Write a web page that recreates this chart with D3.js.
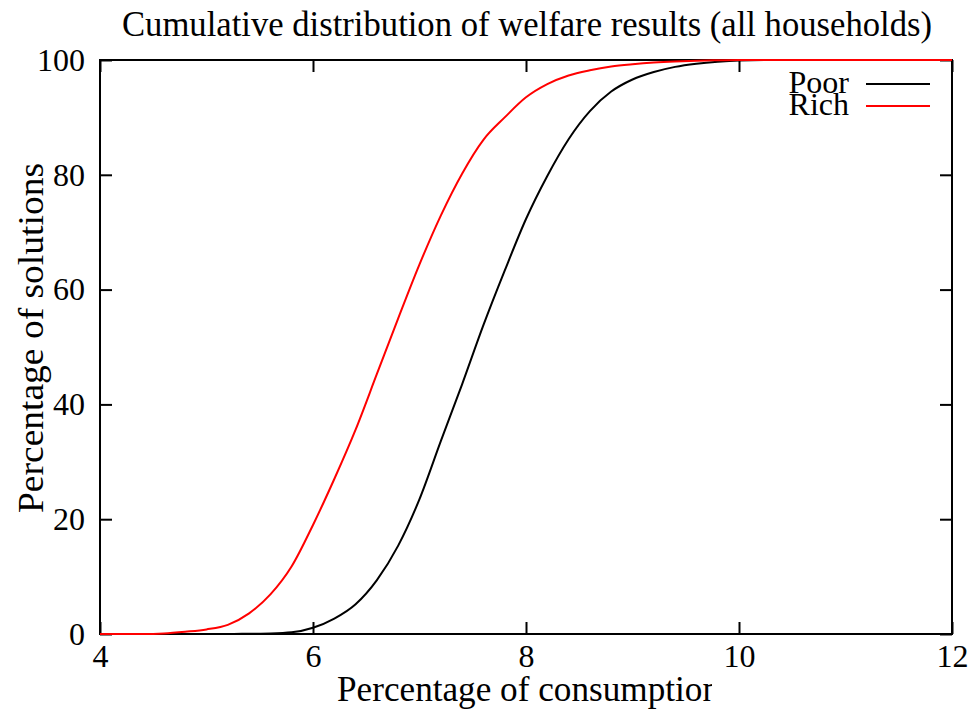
<!DOCTYPE html>
<html>
<head>
<meta charset="utf-8">
<script src="https://cdn.jsdelivr.net/npm/d3@7"></script>
<style>
  html, body { margin: 0; padding: 0; background: #fff; }
  svg { display: block; }
  text { font-family: "Liberation Serif", "Times New Roman", serif; fill: #000; }
</style>
</head>
<body>
<svg id="chart" width="977" height="711"></svg>
<script>
// Consumption share (x) grid shared by both series
const consumption = [4.0, 4.2, 4.4, 4.6, 4.8, 5.0, 5.2, 5.4, 5.6, 5.8, 6.0, 6.2, 6.4, 6.6, 6.8,
  7.0, 7.2, 7.4, 7.6, 7.8, 8.0, 8.2, 8.4, 8.6, 8.8, 9.0, 9.2, 9.4, 9.6, 9.8, 10.0, 10.4, 11.0, 12.0];

// Cumulative percentage of solutions, poor households
const poorPct = [0, 0, 0, 0, 0, 0, 0, 0.05, 0.1, 0.3, 1.1, 2.7, 5.2, 9.4, 15.4,
  23.5, 33.6, 43.5, 53.8, 63.3, 72.3, 79.8, 86.2, 91.1, 94.5, 96.6, 97.9, 98.8, 99.35, 99.7, 99.9, 100, 100, 100];

// Cumulative percentage of solutions, rich households
const richPct = [0, 0, 0, 0.1, 0.4, 0.8, 1.6, 3.6, 6.9, 11.8, 19.0, 27.0, 35.6, 45.3, 55.0,
  64.4, 72.9, 80.2, 86.1, 90.0, 93.5, 95.8, 97.3, 98.2, 98.85, 99.25, 99.55, 99.75, 99.88, 99.95, 100, 100, 100, 100];

const xTicks = [4, 6, 8, 10, 12];
const yTicks = [0, 20, 40, 60, 80, 100];

const seriesNames = ["Poor", "Rich"];
const seriesColors = ["#000000", "#ff0000"];

const titleText = "Cumulative distribution of welfare results (all households)";
const xLabelText = "Percentage of consumption";
const yLabelText = "Percentage of solutions";

const svg = d3.select("#chart");
const plot = { left: 100, right: 952, top: 60, bottom: 634 };

const x = d3.scaleLinear().domain([4, 12]).range([plot.left, plot.right]);
const y = d3.scaleLinear().domain([0, 100]).range([plot.bottom, plot.top]);

const FS = 32;
const LABEL_FS = 35;
const TICK = 12;

// Frame
svg.append("rect")
  .attr("x", plot.left).attr("y", plot.top)
  .attr("width", plot.right - plot.left).attr("height", plot.bottom - plot.top)
  .attr("fill", "none").attr("stroke", "#000").attr("stroke-width", 2);

function styleAxis(g) {
  g.attr("font-family", null).attr("font-size", null);
  g.select(".domain").remove();
  g.selectAll(".tick line").attr("stroke", "#000").attr("stroke-width", 2);
  g.selectAll(".tick text").style("font-size", FS + "px").attr("fill", "#000");
}

// Bottom axis with labels, ticks pointing inward
svg.append("g").attr("transform", `translate(0,${plot.bottom})`)
  .call(d3.axisBottom(x).tickValues(xTicks).tickFormat(d3.format("d"))
    .tickSizeInner(-TICK).tickSizeOuter(0).tickPadding(10))
  .call(styleAxis);

// Top mirror ticks
svg.append("g").attr("transform", `translate(0,${plot.top})`)
  .call(d3.axisTop(x).tickValues(xTicks).tickFormat("")
    .tickSizeInner(-TICK).tickSizeOuter(0))
  .call(styleAxis);

// Left axis with labels
svg.append("g").attr("transform", `translate(${plot.left},0)`)
  .call(d3.axisLeft(y).tickValues(yTicks).tickFormat(d3.format("d"))
    .tickSizeInner(-TICK).tickSizeOuter(0).tickPadding(15))
  .call(styleAxis);

// Right mirror ticks
svg.append("g").attr("transform", `translate(${plot.right},0)`)
  .call(d3.axisRight(y).tickValues(yTicks).tickFormat("")
    .tickSizeInner(-TICK).tickSizeOuter(0))
  .call(styleAxis);

// Curves
const series = [poorPct, richPct];
const line = d3.line()
  .x((d, i) => x(consumption[i]))
  .y(d => y(d))
  .curve(d3.curveMonotoneX);

series.forEach((vals, k) => {
  svg.append("path")
    .datum(vals)
    .attr("d", line)
    .attr("fill", "none")
    .attr("stroke", seriesColors[k])
    .attr("stroke-width", 2)
    .attr("stroke-linejoin", "round");
});

// Legend
const legend = svg.append("g");
seriesNames.forEach((name, k) => {
  const ly = 84 + k * 22;
  legend.append("text")
    .attr("x", 849).attr("y", ly + 9)
    .attr("text-anchor", "end")
    .style("font-size", FS + "px")
    .text(name);
  legend.append("line")
    .attr("x1", 866).attr("x2", 930)
    .attr("y1", ly).attr("y2", ly)
    .attr("stroke", seriesColors[k]).attr("stroke-width", 2);
});

// Title
svg.append("text")
  .attr("x", 527).attr("y", 36)
  .attr("text-anchor", "middle")
  .attr("textLength", 810).attr("lengthAdjust", "spacingAndGlyphs")
  .style("font-size", LABEL_FS + "px")
  .text(titleText);

// X axis label (clipped on the right)
svg.append("clipPath").attr("id", "xlabClip")
  .append("rect").attr("x", 0).attr("y", 640).attr("width", 712).attr("height", 71);
svg.append("text")
  .attr("x", 337).attr("y", 701)
  .attr("text-anchor", "start")
  .attr("textLength", 383).attr("lengthAdjust", "spacingAndGlyphs")
  .attr("clip-path", "url(#xlabClip)")
  .style("font-size", LABEL_FS + "px")
  .text(xLabelText);

// Y axis label
svg.append("text")
  .attr("transform", `translate(43,338) rotate(-90)`)
  .attr("text-anchor", "middle")
  .attr("textLength", 350).attr("lengthAdjust", "spacingAndGlyphs")
  .style("font-size", LABEL_FS + "px")
  .text(yLabelText);
</script>
</body>
</html>
